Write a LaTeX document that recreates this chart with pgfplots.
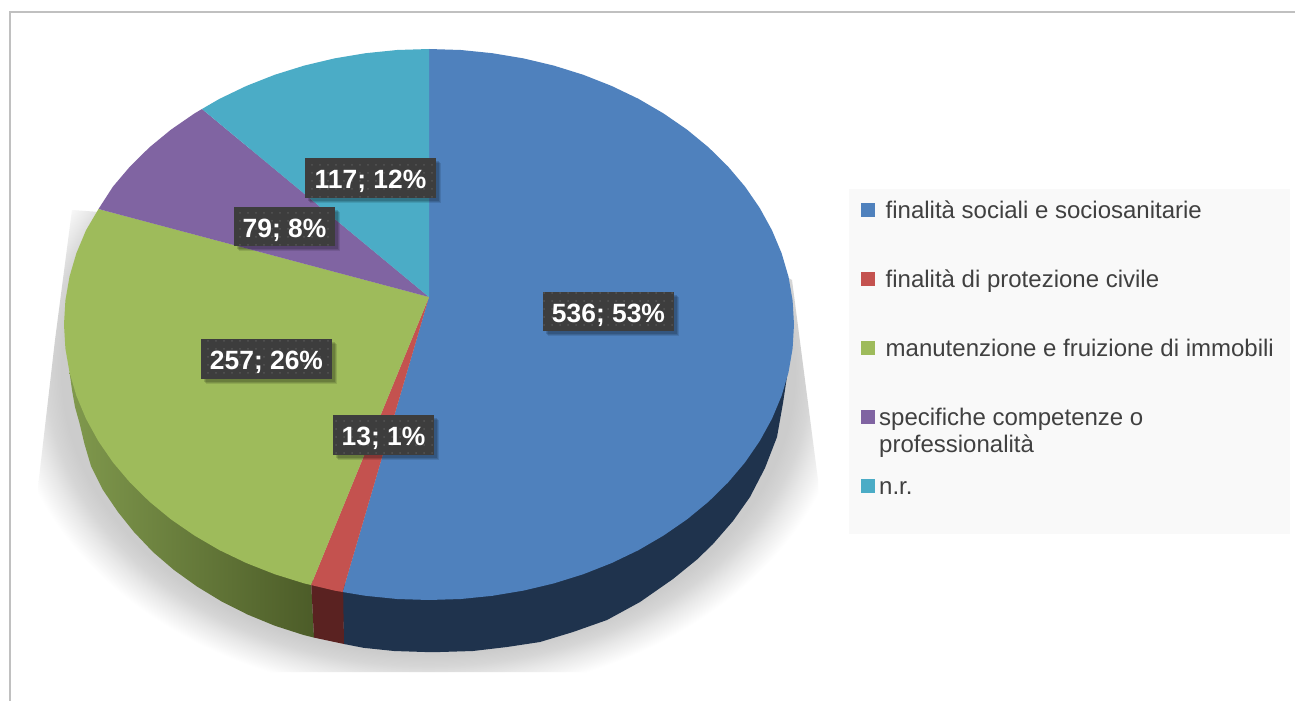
\documentclass[border=0pt]{standalone}
\usepackage{fontspec}
\setmainfont{Liberation Sans}
\usepackage{pgfplots}
\pgfplotsset{compat=1.18}
\usetikzlibrary{patterns.meta}

\definecolor{cblue}{HTML}{4F81BD}
\definecolor{cred}{HTML}{C4524F}
\definecolor{cgreen}{HTML}{9EBB5B}
\definecolor{cpurple}{HTML}{8064A2}
\definecolor{cteal}{HTML}{4BACC6}
\definecolor{wblue}{HTML}{1F334D}
\definecolor{wred}{HTML}{5A2221}
\definecolor{wgreenL}{HTML}{80994D}
\definecolor{wgreenR}{HTML}{4C5C28}
\definecolor{lblbox}{HTML}{3D3D3D}
\definecolor{lbldot}{HTML}{555555}
\definecolor{legtext}{HTML}{404040}
\definecolor{framec}{HTML}{C0C0C0}
\definecolor{shA}{HTML}{CCCCCC}
\definecolor{shB}{HTML}{D6D6D6}
\definecolor{shC}{HTML}{E8E8E8}

% soft shadow under the pie: half the polygon's bounding box is 25bp of the shading
\pgfdeclareradialshading{pieshadow}{\pgfpoint{0bp}{0bp}}{color(0bp)=(shA);color(23.5bp)=(shA);color(24.5bp)=(shB);color(25.5bp)=(shC);color(27bp)=(white);color(50bp)=(white)}

% data label: box with shadow, dotted texture and bold text
\newcommand{\lbl}[5]{%
  \fill[black,opacity=.10] (axis cs:#1+5,#2+5) rectangle (axis cs:#3+5,#4+5);
  \fill[black,opacity=.12] (axis cs:#1+4,#2+4) rectangle (axis cs:#3+4,#4+4);
  \fill[black,opacity=.14] (axis cs:#1+2.5,#2+2.5) rectangle (axis cs:#3+2.5,#4+2.5);
  \fill[lblbox] (axis cs:#1,#2) rectangle (axis cs:#3,#4);
  \fill[pattern={Dots[distance=8pt,radius=1pt]},pattern color=lbldot] (axis cs:#1,#2) rectangle (axis cs:#3,#4);
  \node[anchor=base,inner sep=0pt,text=white,font=\fontsize{26.4}{30}\selectfont\bfseries]
    at (axis cs:{(#1+#3)/2},#2+30) {#5};
}
\newcommand{\legtxt}[3]{%
  \node[anchor=base west,inner sep=0pt,text=legtext,font=\fontsize{24}{28}\selectfont]
    at (axis cs:#1,#2) {#3};
}

\begin{document}
\begin{tikzpicture}
\begin{axis}[
    hide axis,
    scale only axis,
    width=1295pt, height=701pt,
    xmin=0, xmax=1295,
    ymin=0, ymax=701,
    y dir=reverse,
]
  % page background and outer frame
  \addplot[draw=none,fill=white] coordinates {(0,0) (1295,0) (1295,701) (0,701)} -- cycle;
  \addplot[framec,line width=2pt] coordinates {(9.5,701) (9.5,12.5) (1295,12.5)};

  % shadow
  \addplot[draw=none,shade,shading=pieshadow] coordinates {
    (38,672) (38,487) (55,340) (72,210) (100,212) (428,72) (792,280) (818,480) (818,672)
  } -- cycle;

  % side walls (their upper edges are hidden under the top faces)
  \addplot[draw=none,fill=wblue] coordinates {
    (788,370) (783,403) (777,437) (765,468) (750,497) (733,521) (713,544) (697,559.5)
    (673,579) (640,602) (607,620) (573,632) (540,642) (507,647) (473,651) (440,652)
    (425,652) (394,651) (363.4,647.8) (344,644) (342,585) (500,500) (700,400)
  } -- cycle;
  \addplot[draw=none,left color=wgreenL,right color=wgreenR] coordinates {
    (69.5,372) (72,390) (75,407) (79.5,423) (84.5,444) (91,466) (103,490) (118,512)
    (134,532) (153,552) (174,570) (197,586.5) (221.5,601.4) (247.5,614.5) (275,625.8)
    (303.6,635) (314,637.6) (311,580) (200,480) (100,400)
  } -- cycle;
  \addplot[draw=none,fill=wred] coordinates {(311,580) (343,585) (344,644) (314,637.6)} -- cycle;

  % top faces
  \addplot[draw=none,fill=cblue] coordinates {
    (429,297) (429,49) (460.8,50) (492.4,53.2) (523.5,58.4) (553.8,65.6) (583.3,74.8)
    (611.5,85.9) (638.4,98.8) (663.6,113.5) (687.1,129.7) (708.6,147.4) (728,166.5)
    (745.1,186.7) (759.8,208.1) (772,230.3) (781.6,253.2) (788.5,276.7) (792.6,300.5)
    (794,324.5) (792.6,348.5) (788.5,372.3) (781.6,395.8) (772,418.7) (759.8,440.9)
    (745.1,462.3) (728,482.5) (708.6,501.6) (687.1,519.3) (663.6,535.5) (638.4,550.2)
    (611.5,563.1) (583.3,574.2) (553.8,583.4) (523.5,590.6) (492.4,595.8) (460.8,599)
    (429,600) (397.2,599) (365.6,595.8) (342.6,592)
  } -- cycle;
  \addplot[draw=none,fill=cred] coordinates {
    (429,297) (342.6,592) (334.5,590.6) (311,585)
  } -- cycle;
  \addplot[draw=none,fill=cgreen] coordinates {
    (429,297) (311,585) (304.2,583.4) (274.7,574.2) (246.5,563.1) (219.6,550.2)
    (194.4,535.5) (170.9,519.3) (149.4,501.6) (130,482.5) (112.9,462.3) (98.2,440.9)
    (86,418.7) (76.4,395.8) (69.5,372.3) (65.4,348.5) (64,324.5) (65.4,300.5)
    (69.5,276.7) (76.4,253.2) (86,230.3) (98.5,209)
  } -- cycle;
  \addplot[draw=none,fill=cpurple] coordinates {
    (429,297) (98.5,209) (112.9,186.7) (130,166.5) (149.4,147.4) (170.9,129.7)
    (194.4,113.5) (202,109)
  } -- cycle;
  \addplot[draw=none,fill=cteal] coordinates {
    (429,297) (202,109) (219.6,98.8) (246.5,85.9) (274.7,74.8) (304.2,65.6)
    (334.5,58.4) (365.6,53.2) (397.2,50) (429,49)
  } -- cycle;

  % data labels
  \lbl{543}{292}{674}{331}{536; 53\%}
  \lbl{305}{158}{436}{198}{117; 12\%}
  \lbl{234}{207}{335}{246}{79; 8\%}
  \lbl{201}{339}{332}{379}{257; 26\%}
  \lbl{333}{415}{434}{455}{13; 1\%}

  % legend
  \addplot[draw=none,fill=black!2.5] coordinates {(849,189) (1290,189) (1290,534) (849,534)} -- cycle;
  \addplot[only marks,mark=square*,mark size=6.5pt,cblue] coordinates {(867.5,210)};
  \addplot[only marks,mark=square*,mark size=6.5pt,cred] coordinates {(867.5,279)};
  \addplot[only marks,mark=square*,mark size=6.5pt,cgreen] coordinates {(867.5,348)};
  \addplot[only marks,mark=square*,mark size=6.5pt,cpurple] coordinates {(867.5,417)};
  \addplot[only marks,mark=square*,mark size=6.5pt,cteal] coordinates {(867.5,486)};
  \legtxt{885.5}{218}{finalità sociali e sociosanitarie}
  \legtxt{885.5}{287}{finalità di protezione civile}
  \legtxt{885.5}{356}{manutenzione e fruizione di immobili}
  \legtxt{879}{425}{specifiche competenze o}
  \legtxt{879}{452}{professionalità}
  \legtxt{879}{494}{n.r.}
\end{axis}
\end{tikzpicture}
\end{document}
